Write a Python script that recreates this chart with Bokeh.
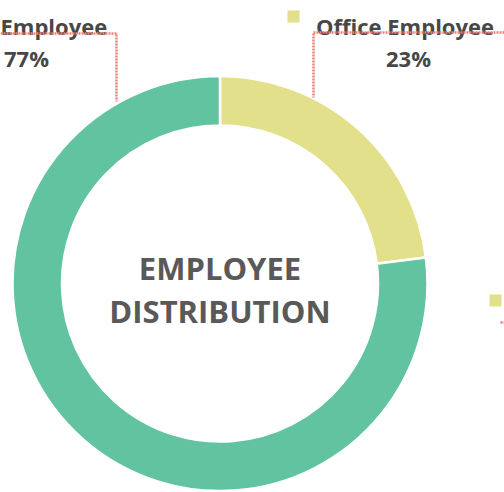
import math
from bokeh.plotting import figure
from bokeh.models import Range1d, ColumnDataSource
from bokeh.core.properties import value
from bokeh.embed import file_html
from bokeh.resources import INLINE

# ---- data ----
categories = ["Office Employee", "Employee"]
shares = [23, 77]
colors = ["#E2E08A", "#62C3A1"]
title_lines = ["EMPLOYEE", "DISTRIBUTION"]

TXT = "#474747"
LEADER = "#EE7F7A"
FONT = value("Open Sans")

# canvas in reference pixels; y measured upward = 492 - page_y
def Y(py):
    return 492 - py

p = figure(width=504, height=492, x_range=Range1d(0, 504), y_range=Range1d(0, 492),
           output_backend="svg", toolbar_location=None, min_border=0)
p.axis.visible = False
p.grid.visible = False
p.outline_line_color = None
p.background_fill_color = "white"

# donut
cx, cy = 219.5, Y(283)
r_out, r_in = 207.5, 158
starts, ends = [], []
cum = 0
for s in shares:
    starts.append(math.pi / 2 - 2 * math.pi * cum / 100)
    cum += s
    ends.append(math.pi / 2 - 2 * math.pi * cum / 100)
src = ColumnDataSource(dict(start=starts, end=ends, color=colors, cat=categories))
p.annular_wedge(x=cx, y=cy, inner_radius=r_in, outer_radius=r_out,
                start_angle="start", end_angle="end", direction="clock",
                fill_color="color", line_color="white", line_width=2.5, source=src)

# centre title
p.text(x=[cx, cx], y=[Y(267), Y(310)], text=title_lines, text_align="center",
       text_baseline="alphabetic", text_font=FONT, text_font_style="bold",
       text_font_size="31px", text_color="#595959")

# labels
pct = [f"{s}%" for s in shares]
p.text(x=[404.5], y=[Y(25)], text=[categories[0]], text_align="center",
       text_baseline="alphabetic", text_font=FONT, text_font_style="bold",
       text_font_size="22px", text_color=TXT)
p.text(x=[0], y=[Y(25)], text=[categories[1]], text_align="left",
       text_baseline="alphabetic", text_font=FONT, text_font_style="bold",
       text_font_size="22px", text_color=TXT)
p.text(x=[408, 26], y=[Y(57), Y(57)], text=pct, text_align="center",
       text_baseline="alphabetic", text_font=FONT, text_font_style="bold",
       text_font_size="22px", text_color=TXT)

# legend-key squares
p.scatter(x=[293, 495], y=[Y(16), Y(300)], marker="square", size=12,
          fill_color=colors[0], line_color=None)

# leader lines
p.line(x=[504, 313, 313], y=[Y(32), Y(32), Y(97)], line_color=LEADER,
       line_width=2.5, line_dash="2 1")
p.line(x=[0, 116, 116], y=[Y(33), Y(33), Y(101)], line_color=LEADER,
       line_width=2.5, line_dash="2 1")
p.line(x=[500, 504], y=[Y(322), Y(322)], line_color=LEADER, line_width=2.5,
       line_dash="2 1")

open("out.html", "w").write(file_html(p, INLINE))
